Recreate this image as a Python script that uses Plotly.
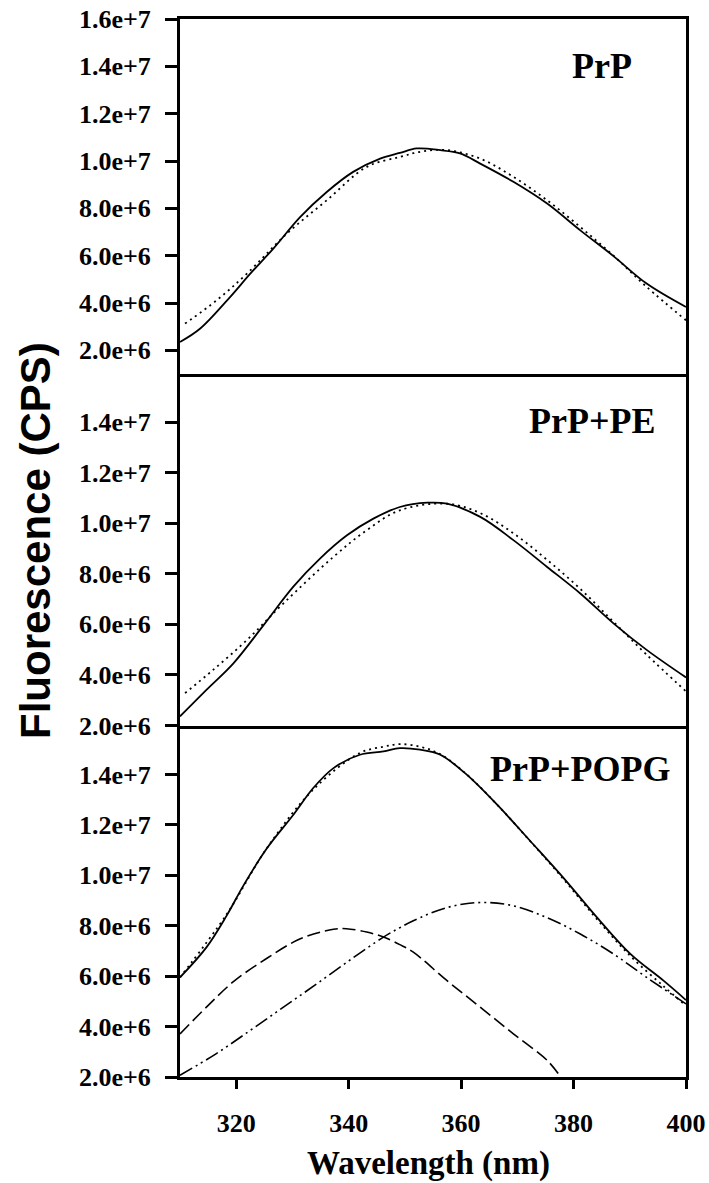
import plotly.graph_objects as go
from plotly.subplots import make_subplots

# ---------------- data ----------------
# Panel 1: PrP
prp_wl = [310, 313.6, 318.9, 322.5, 326.6, 331.4, 336.1, 340.8, 345.6, 349.1, 352.1,
          356.3, 359.8, 363.4, 369.3, 375.3, 381.2, 387.1, 393.0, 400]
prp_meas = [2.35e6, 2.92e6, 4.25e6, 5.24e6, 6.30e6, 7.64e6, 8.69e6, 9.54e6, 1.010e7, 1.034e7, 1.053e7,
            1.046e7, 1.032e7, 9.89e6, 9.12e6, 8.20e6, 7.07e6, 5.98e6, 4.82e6, 3.83e6]
prp_fit_wl = [310.9, 316.5, 321.9, 329.0, 336.1, 343.2, 349.1, 353.0, 357.5, 363.4, 369.3,
              375.3, 381.2, 387.1, 393.0, 400]
prp_fit = [3.13e6, 4.11e6, 5.24e6, 6.93e6, 8.34e6, 9.75e6, 1.017e7, 1.040e7, 1.046e7, 1.010e7, 9.33e6,
           8.34e6, 7.21e6, 6.00e6, 4.68e6, 3.27e6]

# Panel 2: PrP+PE
pe_wl = [310, 314.7, 319.5, 324.8, 330.2, 334.9, 339.7, 344.4, 349.1, 354.0, 357.5,
         363.4, 369.3, 375.3, 381.2, 387.1, 393.0, 400]
pe_meas = [2.36e6, 3.41e6, 4.46e6, 5.95e6, 7.50e6, 8.60e6, 9.52e6, 1.018e7, 1.064e7, 1.081e7, 1.077e7,
           1.025e7, 9.33e6, 8.27e6, 7.22e6, 6.04e6, 4.99e6, 3.90e6]
pe_fit_wl = [310.9, 315.9, 321.9, 328.4, 337.3, 343.2, 349.1, 357.5, 363.4, 369.3, 375.3,
             381.2, 387.1, 393.0, 400]
pe_fit = [3.28e6, 4.20e6, 5.38e6, 6.83e6, 8.67e6, 9.72e6, 1.051e7, 1.077e7, 1.040e7, 9.60e6, 8.55e6,
          7.40e6, 6.10e6, 4.80e6, 3.35e6]

# Panel 3: PrP+POPG
popg_wl = [310, 314.7, 318.3, 321.3, 325.4, 330.2, 333.7, 337.3, 342.0, 346.2, 349.1,
           352.7, 356.3, 361.0, 366.4, 372.3, 378.2, 384.2, 390.1, 396.0, 400]
popg_meas = [5.95e6, 7.14e6, 8.40e6, 9.60e6, 1.105e7, 1.241e7, 1.346e7, 1.425e7, 1.478e7, 1.491e7, 1.504e7,
             1.498e7, 1.478e7, 1.399e7, 1.280e7, 1.136e7, 9.90e6, 8.32e6, 6.88e6, 5.82e6, 5.05e6]
popg_fit_wl = [310, 318.3, 325.4, 333.7, 342.0, 346.2, 349.1, 352.7, 356.3, 361.0, 366.4,
               372.3, 378.2, 384.2, 390.1, 396.0, 400]
popg_fit = [5.95e6, 8.45e6, 1.106e7, 1.340e7, 1.485e7, 1.510e7, 1.520e7, 1.510e7, 1.480e7, 1.400e7, 1.280e7,
            1.135e7, 9.85e6, 8.25e6, 6.80e6, 5.60e6, 4.83e6]
comp1_wl = [310, 314.7, 319.5, 325.4, 331.4, 337.3, 339.6, 343.2, 346.2, 349.1, 351.5,
            357.5, 363.4, 369.3, 375.3, 377.6]
comp1 = [3.71e6, 4.77e6, 5.78e6, 6.70e6, 7.48e6, 7.86e6, 7.88e6, 7.75e6, 7.55e6, 7.25e6, 6.95e6,
         5.82e6, 4.77e6, 3.71e6, 2.66e6, 2.03e6]
comp2_wl = [310, 316.4, 322.5, 328.4, 334.3, 340.3, 346.2, 349.1, 351.5, 357.5, 363.4,
            369.3, 375.3, 381.2, 387.1, 393.0, 400]
comp2 = [2.07e6, 2.92e6, 3.85e6, 4.77e6, 5.69e6, 6.65e6, 7.55e6, 7.92e6, 8.20e6, 8.72e6, 8.92e6,
         8.79e6, 8.32e6, 7.67e6, 6.88e6, 5.95e6, 4.90e6]

panel_labels = ["PrP", "PrP+PE", "PrP+POPG"]
x_ticks = [320, 340, 360, 380, 400]
y_ticks_top = [2e6, 4e6, 6e6, 8e6, 1.0e7, 1.2e7, 1.4e7, 1.6e7]
y_ticks_lower = [2e6, 4e6, 6e6, 8e6, 1.0e7, 1.2e7, 1.4e7]

# ---------------- figure ----------------
W, H = 709, 1183
L, T, R, B = 180, 19, 23, 106
PW = W - L - R
PH = H - T - B

fig = make_subplots(rows=3, cols=1, shared_xaxes=True, vertical_spacing=0)

solid = dict(color="black", width=1.8)
dotted = dict(color="black", width=1.8, dash="2px,4px")
dashed = dict(color="black", width=1.6, dash="13px,5px")
dashdotdot = dict(color="black", width=1.6, dash="14px,4px,2px,4px,2px,4px")

fig.add_trace(go.Scatter(x=prp_fit_wl, y=prp_fit, mode="lines", line=dotted, line_shape="spline"), row=1, col=1)
fig.add_trace(go.Scatter(x=prp_wl, y=prp_meas, mode="lines", line=solid, line_shape="spline"), row=1, col=1)
fig.add_trace(go.Scatter(x=pe_fit_wl, y=pe_fit, mode="lines", line=dotted, line_shape="spline"), row=2, col=1)
fig.add_trace(go.Scatter(x=pe_wl, y=pe_meas, mode="lines", line=solid, line_shape="spline"), row=2, col=1)
fig.add_trace(go.Scatter(x=popg_fit_wl, y=popg_fit, mode="lines", line=dotted, line_shape="spline"), row=3, col=1)
fig.add_trace(go.Scatter(x=popg_wl, y=popg_meas, mode="lines", line=solid, line_shape="spline"), row=3, col=1)
fig.add_trace(go.Scatter(x=comp1_wl, y=comp1, mode="lines", line=dashed, line_shape="spline"), row=3, col=1)
fig.add_trace(go.Scatter(x=comp2_wl, y=comp2, mode="lines", line=dashdotdot, line_shape="spline"), row=3, col=1)


def ypx_to_paper(py):
    return (H - B - py) / PH


def xpx_to_paper(px):
    return (px - L) / PW


# domains (pixel boundaries)
b1, b2 = 374, 725.5
doms = [[ypx_to_paper(b1), 1.0], [ypx_to_paper(b2), ypx_to_paper(b1)], [0.0, ypx_to_paper(b2)]]
yranges = [[1.0e6, 1.6e7], [2.0e6, 1.59e7], [2.0e6, 1.594e7]]
ytv = [y_ticks_top, y_ticks_lower, y_ticks_lower]

tickfont_y = dict(family="Liberation Serif, Times New Roman, serif", size=26, color="black", weight="bold")
tickfont_x = dict(family="Liberation Serif, Times New Roman, serif", size=26, color="black", weight="bold")

for i in range(3):
    yname = "yaxis" if i == 0 else f"yaxis{i+1}"
    xname = "xaxis" if i == 0 else f"xaxis{i+1}"
    fig.layout[yname].update(
        domain=doms[i], range=yranges[i], tickvals=ytv[i], tickformat=".1e",
        ticks="outside", ticklen=12, tickwidth=2.5, tickcolor="black",
        showline=True, linewidth=3, linecolor="black", mirror=True,
        showgrid=False, zeroline=False, tickfont=tickfont_y, ticklabelstandoff=9,
        ticklabeloverflow="allow",
    )
    fig.layout[xname].update(
        range=[310, 400], showline=True, linewidth=3, linecolor="black", side="bottom",
        showgrid=False, zeroline=False, ticklabeloverflow="allow",
    )
    if i == 0:
        # top panel draws its top edge and its bottom edge (shared boundary)
        fig.layout[xname].update(mirror=True, ticks="", showticklabels=False)
    elif i == 1:
        # middle panel draws only its bottom edge (shared boundary with the lowest panel)
        fig.layout[xname].update(mirror=False, ticks="", showticklabels=False)
    else:
        fig.layout[xname].update(
            mirror=False,
            tickvals=x_ticks, ticks="outside", ticklen=9, tickwidth=2.5, tickcolor="black",
            showticklabels=True, tickfont=tickfont_x, ticklabelstandoff=12,
        )

label_font = dict(family="Liberation Serif, Times New Roman, serif", size=36, color="black", weight="bold")
label_pos = [(634, 66), (657, 421), (672, 769)]
annotations = []
for txt, (px, py) in zip(panel_labels, label_pos):
    annotations.append(dict(text=txt, xref="paper", yref="paper", x=xpx_to_paper(px), y=ypx_to_paper(py),
                            xanchor="right", yanchor="middle", showarrow=False, font=label_font))

annotations.append(dict(text="Fluorescence (CPS)", xref="paper", yref="paper",
                        x=xpx_to_paper(35), y=ypx_to_paper(541), xanchor="center", yanchor="middle",
                        textangle=-90, showarrow=False,
                        font=dict(family="Liberation Sans, Arial, sans-serif", size=42, color="black", weight="bold")))
annotations.append(dict(text="Wavelength (nm)", xref="paper", yref="paper",
                        x=xpx_to_paper(428), y=ypx_to_paper(1163), xanchor="center", yanchor="middle",
                        showarrow=False,
                        font=dict(family="Liberation Serif, Times New Roman, serif", size=33, color="black", weight="bold")))

fig.update_layout(
    width=W, height=H, margin=dict(l=L, r=R, t=T, b=B, autoexpand=False),
    paper_bgcolor="white", plot_bgcolor="white", showlegend=False,
    annotations=annotations,
)

# remove the browser's default page margin so the figure fills the window exactly
fig.write_html(
    "out.html",
    config={"displayModeBar": False},
    post_script="document.body.style.margin='0px';document.body.style.overflow='hidden';",
)
